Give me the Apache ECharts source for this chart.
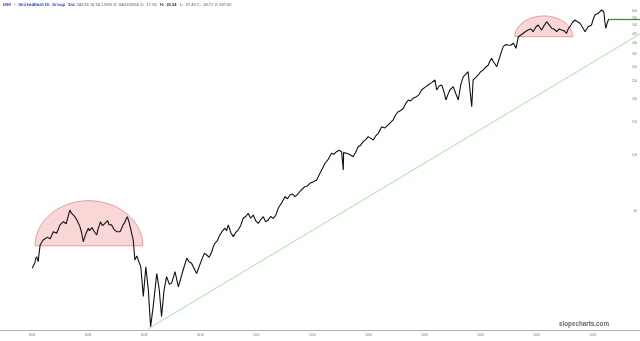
<!DOCTYPE html>
<html><head><meta charset="utf-8">
<script src="https://cdn.jsdelivr.net/npm/echarts@6/dist/echarts.min.js"></script>
<style>html,body{margin:0;padding:0;background:#fff}#c{width:640px;height:341px}</style>
</head><body><div id="c"></div>
<script>
const years = [
2004.01,2004.05,2004.10,2004.13,2004.17,2004.22,2004.29,2004.40,2004.55,2004.65,2004.76,2004.88,
2005.00,2005.05,2005.12,2005.17,2005.22,2005.28,2005.35,2005.40,2005.45,2005.53,2005.62,2005.71,2005.77,2005.83,2005.92,
2006.01,2006.05,2006.10,2006.14,2006.19,2006.25,2006.31,2006.36,2006.40,2006.44,2006.48,2006.52,2006.57,2006.62,2006.66,2006.70,2006.75,2006.79,2006.84,2006.89,2006.93,2006.97,
2007.02,2007.08,2007.14,2007.20,2007.25,2007.32,2007.36,2007.40,2007.47,2007.53,2007.61,2007.67,2007.74,2007.79,2007.88,2007.97,
2008.06,2008.15,2008.23,2008.32,2008.45,2008.54,2008.62,2008.71,2008.80,2008.90,2008.98,
2009.10,2009.22,2009.39,2009.52,2009.60,2009.69,2009.87,
2010.05,2010.15,2010.23,2010.32,2010.41,2010.46,2010.52,2010.61,2010.70,2010.79,2010.88,2010.94,
2011.00,2011.09,2011.18,2011.26,2011.35,2011.44,2011.53,2011.62,2011.71,2011.80,2011.89,2011.98,
2012.07,2012.16,2012.25,2012.33,2012.42,2012.51,2012.60,2012.69,2012.78,2012.90,
2013.02,2013.11,2013.20,2013.29,2013.38,2013.46,2013.55,2013.64,2013.73,2013.82,2013.91,
2014.03,2014.15,2014.27,2014.45,2014.57,2014.68,2014.77,2014.86,2014.95,
2015.04,2015.09,2015.10,2015.11,2015.22,2015.33,2015.45,2015.54,2015.63,2015.72,2015.81,2015.90,2015.99,
2016.08,2016.17,2016.26,2016.35,2016.47,2016.58,2016.70,2016.79,2016.88,2016.97,
2017.06,2017.15,2017.24,2017.33,2017.42,2017.50,2017.59,2017.71,2017.80,2017.89,
2018.01,2018.13,2018.25,2018.37,2018.43,2018.52,2018.61,2018.69,2018.76,2018.83,2018.90,2018.96,
2019.02,2019.11,2019.20,2019.29,2019.38,2019.46,2019.55,2019.68,2019.73,2019.82,2019.91,
2020.00,2020.09,2020.18,2020.27,2020.33,2020.39,2020.45,2020.51,2020.57,2020.62,2020.71,2020.80,2020.89,2020.98,
2021.07,2021.16,2021.21,2021.26,2021.34,2021.43,2021.52,2021.60,2021.69,2021.78,2021.87,2021.96,
2022.05,2022.11,2022.17,2022.26,2022.35,2022.44,2022.53,2022.62,2022.71,2022.80,2022.88,2022.97,
2023.06,2023.12,2023.18,2023.27,2023.36,2023.45,2023.54,2023.63,2023.72,2023.78,2023.83,2023.89,2023.95,
2024.01,2024.07,2024.13,2024.19,2024.25,2024.31,2024.35,2024.39,2024.43,2024.46,2024.50,2024.55,2024.58];
const closes = [
24.4,25.2,26.0,27.5,28.2,26.5,32.6,34.7,36.0,35.2,38.5,37.8,
41.9,42.8,43.6,44.5,42.5,46.0,50.4,48.6,47.5,46.4,44.0,41.0,38.0,34.0,37.5,
40.2,39.0,38.6,40.5,39.3,38.0,37.0,40.0,41.5,43.5,42.7,41.5,41.0,43.0,43.6,44.2,42.0,42.8,41.9,40.6,39.5,39.8,
38.5,37.8,38.5,40.2,41.9,43.5,45.2,46.4,43.0,39.3,34.7,27.1,28.5,27.1,24.9,17.2,
24.9,18.6,11.8,15.1,22.9,18.6,13.4,18.6,22.0,20.0,20.3,
23.4,19.4,23.9,27.7,26.5,26.0,22.9,
27.1,29.5,28.8,28.0,30.0,31.8,33.3,34.5,37.0,38.8,40.2,39.0,
41.9,38.0,36.2,38.0,39.3,41.5,45.5,46.5,48.4,45.5,47.4,44.0,
42.7,44.8,46.4,43.5,44.5,46.5,45.5,47.2,51.5,55.0,
59.5,58.0,60.8,61.5,59.5,61.0,63.3,65.5,67.4,68.0,70.3,
71.7,73.3,79.6,90.2,95.0,102.1,101.0,104.2,106.0,
104.2,104.0,83.0,103.0,102.1,100.5,97.9,103.5,110.9,113.0,118.0,121.0,125.6,
123.0,120.5,127.0,131.0,142.2,140.0,145.3,150.0,154.6,165.0,
171.4,174.0,178.8,190.0,198.3,196.0,202.5,206.6,212.0,224.5,
232.0,238.9,246.0,254.3,224.5,236.0,238.9,220.0,198.3,212.0,224.5,230.0,
233.9,215.0,198.3,240.0,264.9,272.0,281.9,182.4,254.3,262.0,270.6,
282.0,288.0,298.0,306.4,322.0,333.1,320.0,313.0,300.0,306.4,350.0,384.8,395.0,393.0,
392.0,401.4,390.0,377.2,435.8,445.0,454.6,465.0,473.7,480.0,463.7,490.0,
504.0,495.0,473.7,500.0,525.2,505.0,483.8,478.0,463.7,480.0,473.7,470.0,
454.6,480.0,493.5,520.0,536.4,525.0,514.8,490.0,463.7,475.0,493.5,498.0,504.0,
540.0,570.8,575.0,583.0,595.0,607.5,600.0,594.7,520.0,483.8,510.0,536.4,542.55];
const yTicks = [50,100,150,200,250,300,350,400,450,500,550,600];
const xTicks = [2004,2006,2008,2010,2012,2014,2016,2018,2020,2022,2024];
const lastPrice = 542.55;
const trendYears = [2008.135, 2025.68];
const trendPrices = [11.47, 451];
const domeStart = [2004.11, 2021.22];
const domeEnd = [2007.95, 2023.28];
const domeBase = [32.3, 436];
const domeTop = [56.6, 564];
const headerName = 'UNH - UnitedHealth Group Inc';
const headerQuote = '542.55 10.54 1.99% D: 04/02/2004 O:  17.56   ';
const headerHigh = 'H:  29.54';
const headerRest = '   L:  27.40 C:  28.71 V: 597.00';

const X_MIN = 2002.86, X_MAX = 2025.68;
const chart = echarts.init(document.getElementById('c'), null, {renderer:'canvas'});
const domes = domeStart.map((s,i)=>[s, domeEnd[i], domeBase[i], domeTop[i]]);
chart.setOption({
  animation:false,
  backgroundColor:'#fff',
  title:{
    left:3, top:2, padding:0,
    text:'{a|'+headerName+'}{b| '+headerQuote+'}{c|'+headerHigh+'}{b|'+headerRest+'}',
    textStyle:{fontSize:4,lineHeight:5,color:'#8a8a8a',rich:{
      a:{fontFamily:'DejaVu Sans Mono',fontSize:4.3,lineHeight:5,color:'#2f45c8'},
      b:{fontFamily:'Liberation Sans',fontSize:4,lineHeight:5,color:'#8a8a8a'},
      c:{fontFamily:'Liberation Sans',fontSize:4,lineHeight:5,color:'#333',fontWeight:'bold'}
    }}
  },
  graphic:[{type:'text',right:31,top:321,style:{text:'slopecharts.com',font:'bold 6.3px "Liberation Sans"',fill:'#666'}}],
  grid:{left:0,right:0,top:0,bottom:11,containLabel:false},
  xAxis:{type:'value',min:X_MIN,max:X_MAX,splitLine:{show:false},axisTick:{show:false},
    axisLine:{show:true,lineStyle:{color:'#b0b0b0',width:1}},
    axisLabel:{customValues:xTicks,formatter:v=>String(v),fontSize:3,color:'#777',margin:4}},
  yAxis:{type:'log',position:'right',min:11.33,max:687.9,splitLine:{show:false},
    axisLine:{show:false},axisTick:{show:false},
    axisLabel:{inside:true,customValues:yTicks,formatter:v=>String(v),fontSize:3,color:'#777',margin:3}},
  series:[
    {type:'custom',z:1,data:domes,encode:{x:[0,1],y:[2,3]},silent:true,
      renderItem:function(params,api){
        const a=api.coord([api.value(0),api.value(2)]);
        const b=api.coord([api.value(1),api.value(3)]);
        const cx=(a[0]+b[0])/2, rx=(b[0]-a[0])/2, ry=a[1]-b[1];
        const pts=[];
        for(let i=0;i<=80;i++){const th=Math.PI*i/80;pts.push([cx-rx*Math.cos(th),a[1]-ry*Math.sin(th)]);}
        return {type:'polygon',shape:{points:pts},style:{fill:'rgba(244,160,160,0.42)',stroke:'#e08585',lineWidth:0.8}};
      }},
    {type:'line',z:2,data:trendYears.map((t,i)=>[t,trendPrices[i]]),showSymbol:false,
      lineStyle:{color:'#8fd88f',width:0.8},silent:true},
    {type:'line',z:3,data:years.map((t,i)=>[t,closes[i]]),showSymbol:false,
      lineStyle:{color:'#111',width:1.1},silent:true,
      markLine:{symbol:'none',silent:true,
        lineStyle:{color:'#55862a',width:1.3,type:'solid'},
        label:{show:false},
        data:[[{coord:[years[years.length-1],lastPrice]},{coord:[X_MAX,lastPrice]}]]}}
  ]
});
</script></body></html>
